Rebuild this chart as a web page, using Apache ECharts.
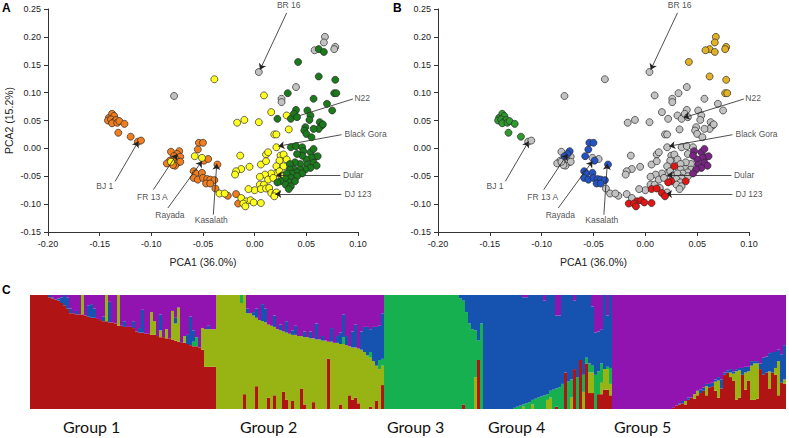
<!DOCTYPE html>
<html><head><meta charset="utf-8">
<script src="https://cdn.jsdelivr.net/npm/echarts@6/dist/echarts.min.js"></script>
<style>html,body{margin:0;padding:0;background:#fff}#c{width:789px;height:438px}</style>
</head><body><div id="c"></div>
<script>
// ---------- PCA points: [PCA1, PCA2, cluster in panel B] grouped by panel-A colour ----------
const orangeA = [
[-0.141,0.055,'g'],[-0.138,0.062,'g'],[-0.136,0.058,'g'],[-0.142,0.050,'g'],[-0.139,0.052,'g'],[-0.136,0.048,'g'],[-0.134,0.051,'g'],[-0.138,0.045,'g'],[-0.133,0.046,'g'],[-0.131,0.049,'g'],[-0.126,0.044,'g'],[-0.132,0.028,'g'],[-0.120,0.021,'g'],[-0.113,0.012,'x'],[-0.110,0.014,'x'],
[-0.081,-0.006,'x'],[-0.073,-0.005,'b'],[-0.075,-0.010,'b'],[-0.072,-0.015,'x'],[-0.078,-0.014,'b'],[-0.076,-0.020,'x'],[-0.082,-0.022,'x'],[-0.085,-0.027,'x'],[-0.080,-0.027,'x'],[-0.074,-0.025,'x'],[-0.072,-0.024,'x'],[-0.077,-0.031,'x'],[-0.079,-0.030,'x'],
[-0.054,0.010,'b'],[-0.050,0.010,'b'],[-0.055,-0.002,'b'],[-0.049,-0.022,'b'],[-0.045,-0.019,'x'],[-0.036,-0.029,'b'],
[-0.059,-0.041,'b'],[-0.057,-0.045,'b'],[-0.051,-0.044,'b'],[-0.059,-0.053,'b'],[-0.055,-0.056,'b'],[-0.050,-0.053,'b'],[-0.046,-0.055,'b'],[-0.043,-0.056,'b'],[-0.039,-0.057,'b'],[-0.047,-0.063,'b'],[-0.043,-0.063,'b'],[-0.038,-0.072,'x'],[-0.026,-0.085,'x'],[-0.018,-0.082,'x'],[-0.016,-0.099,'r']
];
const yellowA = [
[-0.081,-0.024,'x'],[-0.058,-0.014,'b'],[-0.051,-0.017,'x'],[-0.034,-0.081,'x'],[-0.029,-0.081,'x'],[-0.039,0.124,'x'],
[0.009,0.095,'x'],[0.016,0.065,'x'],[0.004,0.047,'x'],[-0.017,0.046,'x'],[-0.010,0.051,'x'],[0.031,0.059,'x'],[0.033,0.034,'x'],[0.019,0.025,'x'],[0.021,0.025,'x'],[0.021,0.002,'x'],
[-0.014,-0.013,'x'],[0.011,-0.011,'x'],[0.013,-0.007,'x'],[0.025,-0.013,'x'],[0.028,-0.011,'x'],[0.031,-0.020,'x'],[0.024,-0.022,'x'],[0.006,-0.029,'x'],[0.011,-0.023,'x'],[-0.005,-0.033,'x'],[-0.013,-0.037,'x'],[-0.018,-0.041,'x'],[-0.019,-0.047,'x'],[0.021,-0.032,'x'],[0.028,-0.032,'r'],[0.021,-0.045,'x'],[0.016,-0.045,'x'],[0.010,-0.047,'x'],[0.005,-0.051,'x'],[0.005,-0.065,'x'],[0.009,-0.065,'x'],[0.013,-0.056,'x'],[0.018,-0.053,'x'],[0.026,-0.049,'x'],[0.024,-0.041,'x'],[0.000,-0.075,'x'],[0.006,-0.073,'r'],[0.011,-0.072,'r'],[0.014,-0.071,'x'],[0.016,-0.080,'r'],[0.020,-0.081,'x'],[0.021,-0.079,'x'],[0.019,-0.086,'r'],[-0.006,-0.073,'x'],
[-0.013,-0.089,'x'],[-0.008,-0.095,'r'],[-0.004,-0.093,'r'],[-0.001,-0.097,'r'],[-0.011,-0.099,'r'],[-0.009,-0.104,'r'],[0.006,-0.098,'r']
];
const greenA = [
[0.062,0.178,'y'],[0.067,0.173,'y'],[0.042,0.155,'y'],[0.062,0.129,'y'],[0.078,0.123,'y'],[0.077,0.099,'y'],[0.079,0.099,'y'],
[0.032,0.099,'x'],[0.057,0.089,'x'],[0.070,0.080,'x'],[0.075,0.068,'x'],[0.022,0.053,'x'],[0.035,0.053,'x'],[0.040,0.069,'x'],[0.038,0.062,'x'],[0.041,0.056,'x'],[0.051,0.068,'x'],[0.054,0.059,'x'],[0.053,0.051,'x'],[0.063,0.047,'x'],[0.065,0.041,'x'],[0.062,0.035,'x'],[0.057,0.035,'x'],[0.049,0.038,'x'],[0.048,0.032,'x'],[0.050,0.026,'x'],[0.055,0.020,'x'],[0.066,0.043,'x'],
[0.035,0.002,'x'],[0.040,0.004,'x'],[0.046,0.002,'x'],[0.047,-0.005,'p'],[0.054,-0.007,'p'],[0.057,-0.001,'p'],[0.058,-0.016,'p'],[0.061,-0.014,'p'],[0.055,-0.017,'p'],[0.050,-0.020,'p'],[0.046,-0.013,'p'],[0.041,-0.010,'x'],[0.057,-0.026,'p'],[0.060,-0.031,'p'],[0.051,-0.029,'p'],[0.044,-0.028,'x'],[0.039,-0.025,'x'],[0.034,-0.028,'x'],[0.054,-0.035,'p'],[0.049,-0.038,'p'],[0.044,-0.038,'x'],[0.038,-0.037,'x'],[0.034,-0.038,'x'],[0.041,-0.043,'x'],[0.046,-0.045,'p'],[0.036,-0.045,'x'],[0.031,-0.045,'x'],[0.041,-0.050,'x'],[0.035,-0.053,'x'],[0.030,-0.055,'x'],[0.025,-0.059,'r'],[0.034,-0.061,'x'],[0.039,-0.059,'r'],[0.030,-0.065,'x'],[0.035,-0.068,'x'],[0.033,-0.073,'x'],[0.022,-0.061,'r']
];
const grayA = [
[-0.078,0.094,'x'],[0.004,0.137,'x'],[0.068,0.200,'y'],[0.067,0.190,'y'],[0.058,0.176,'y'],[0.078,0.182,'y'],[0.077,0.178,'y'],[0.040,0.110,'x'],[0.026,0.089,'x'],[0.026,0.083,'x']
];

// ---------- annotations ----------
const annotNames = ['BR 16','N22','Black Gora','Dular','DJ 123','BJ 1','FR 13 A','Rayada','Kasalath'];
const annotText = [[0.033,0.258],[0.0965,0.0895],[0.087,0.026],[0.0855,-0.0478],[0.087,-0.082],[-0.145,-0.067],[-0.099,-0.087],[-0.082,-0.119],[-0.042,-0.128]];
const annotAlign = ['center','left','left','left','left','center','center','center','center'];
const arrowFrom = [[0.031,0.243],[0.095,0.0885],[0.084,0.0245],[0.083,-0.0478],[0.084,-0.082],[-0.135,-0.059],[-0.098,-0.074],[-0.084,-0.107],[-0.040,-0.119]];
const arrowTo = [[0.0052,0.141],[0.037,0.055],[0.023,0.004],[0.021,-0.0478],[0.020,-0.082],[-0.1126,0.0125],[-0.075,-0.010],[-0.051,-0.023],[-0.0367,-0.0275]];

// ---------- STRUCTURE membership: [red, olive, green, blue, purple] per individual ----------
const group1 = [
[100,0,0,0,0],[100,0,0,0,0],[100,0,0,0,0],[100,0,0,0,0],[100,0,0,0,0],[100,0,0,0,0],
[98,0,0,2,0],[97,0,0,1,2],[96,0,0,0,4],[95,0,0,2,3],[93,0,0,5,2],[91,0,0,9,0],[88,0,0,10,2],
[84,0,0,4,12],[84,0,0,0,16],[83,0,0,3,14],[83,0,0,0,17],[83,17,0,0,0],
[82,0,0,0,18],[81,0,0,10,9],[80,0,0,12,8],[80,0,0,8,12],[79,0,0,0,21],[78,0,0,0,22],
[77,0,0,4,19],[77,23,0,0,0],[76,0,0,18,6],[76,0,0,0,24],[75,0,0,0,25],
[73,27,0,0,0],[73,0,0,0,27],[72,0,0,5,23],[72,0,0,0,28],[72,0,0,0,28],[71,0,0,6,23],
[68,0,0,0,32],[67,0,0,4,29],[67,0,0,20,13],[66,0,0,0,34],[66,0,0,0,34],
[65,20,0,0,15],[65,12,0,0,23],[64,0,0,0,36],[63,6,0,14,17],[63,0,0,0,37],[62,8,0,0,30],[62,0,0,0,38],[61,25,0,0,14],[60,15,0,5,20],
[59,30,0,0,11],[58,0,0,0,42],[58,6,0,0,36],[57,0,0,8,35],[56,0,0,25,19],[55,0,4,10,31],[55,0,8,0,37],[54,0,0,0,46],[52,19,0,0,29],
[37,33,0,0,30],[37,33,0,3,27],[37,33,0,0,30],[37,33,0,0,30]
];
const group2 = [
[0,100,0,0,0],[0,100,0,0,0],[0,100,0,0,0],[0,100,0,0,0],[0,100,0,0,0],[0,100,0,0,0],[0,100,0,0,0],[0,100,0,0,0],
[0,93,7,0,0],[13,87,0,0,0],[0,84,0,4,12],[0,84,0,0,16],[0,82,0,3,15],[20,60,0,8,12],[0,78,0,0,22],[0,77,0,15,8],
[0,76,0,12,12],[10,64,0,0,26],[0,73,0,0,27],[12,60,0,10,18],[0,70,0,0,30],[0,69,0,5,26],[15,53,0,0,32],[8,59,0,10,23],
[0,66,0,0,34],[7,58,0,4,31],[0,65,0,8,27],[0,64,0,0,36],[18,46,0,0,36],[4,59,0,5,32],[0,63,0,0,37],[0,62,0,6,32],
[6,56,0,0,38],[0,61,0,14,25],[0,61,0,0,39],[0,60,0,4,36],[0,60,0,0,40],[44,15,0,0,41],[0,59,0,12,29],[0,58,0,0,42],
[0,58,0,6,36],[4,53,0,10,33],[0,57,6,20,17],[0,56,0,8,36],[12,43,0,0,45],[8,46,0,14,32],[10,44,0,20,26],[5,48,0,0,47],
[0,52,0,16,32],[0,50,0,22,28],[0,47,0,25,28],[2,43,5,20,30],[0,42,0,30,28],[7,31,0,34,28],[0,35,8,30,27],[21,17,6,40,16]
];
const group3 = [
[0,0,100,0,0],[0,0,100,0,0],[0,0,100,0,0],[0,0,100,0,0],[0,0,100,0,0],[0,0,100,0,0],[0,0,100,0,0],[0,0,100,0,0],
[0,0,100,0,0],[0,0,100,0,0],[0,0,100,0,0],[0,0,100,0,0],[0,0,100,0,0],[0,0,100,0,0],[0,0,100,0,0],[0,0,100,0,0],
[0,0,100,0,0],[0,0,100,0,0],[0,0,100,0,0],[0,0,100,0,0],[0,0,100,0,0],[0,0,100,0,0],[0,0,100,0,0],[0,0,100,0,0],
[0,0,100,0,0],[0,0,97,3,0],[4,0,91,5,0],[0,0,85,15,0],[0,0,75,25,0],[0,0,70,30,0],[0,28,41,31,0],[43,0,17,40,0],[0,0,75,25,0]
];
const group4 = [
[0,0,0,100,0],[0,0,0,100,0],[0,0,0,100,0],[0,0,0,100,0],[0,0,0,100,0],[0,0,0,100,0],[0,0,0,100,0],[0,0,0,100,0],[0,0,0,100,0],[0,0,0,100,0],
[0,0,1,99,0],[0,0,2,98,0],[0,0,3,97,0],[0,2,2,94,2],[0,0,5,93,2],[0,0,6,94,0],[0,4,4,92,0],[0,0,9,91,0],[0,0,10,90,0],[0,0,11,89,0],
[0,0,12,83,5],[0,8,5,87,0],[0,10,6,84,0],[0,0,17,83,0],[2,0,16,64,18],[0,0,19,63,18],[0,0,22,78,0],[32,0,0,68,0],[0,0,24,76,0],[0,10,16,74,0],
[35,0,0,60,5],[0,0,28,72,0],[43,0,0,57,0],[0,15,15,70,0],[40,0,5,55,0],[14,18,8,60,0],[14,18,6,52,10],[0,0,30,37,33],[13,0,20,35,32],[13,10,17,30,30],
[17,18,0,65,0],[17,18,2,45,18],[12,10,14,64,0]
];
const group5 = [
[0,0,0,0,100],[0,0,0,0,100],[0,0,0,0,100],[0,0,0,0,100],[0,0,0,0,100],[0,0,0,0,100],[0,0,0,0,100],[0,0,0,0,100],[0,0,0,0,100],[0,0,0,0,100],
[0,0,0,0,100],[0,0,0,0,100],[0,0,0,0,100],[0,0,0,0,100],[0,0,0,0,100],[0,0,0,0,100],[0,0,0,0,100],[0,0,0,0,100],[0,0,0,0,100],[0,0,0,0,100],
[1,0,0,0,99],[3,0,0,0,97],[4,0,0,1,95],[5,0,0,2,93],[4,3,0,0,93],[8,0,0,2,90],[10,0,0,0,90],[9,4,0,0,87],[12,4,0,0,84],[14,0,0,3,83],
[16,0,0,3,81],[12,8,0,2,78],[19,0,0,3,78],[20,0,0,3,77],[16,8,0,2,74],[10,15,0,3,72],[18,0,0,8,74],[30,0,0,2,68],[32,0,0,2,66],[28,4,0,3,65],
[25,6,0,2,67],[8,25,0,2,65],[10,24,0,2,64],[30,0,0,6,64],[17,15,0,5,63],[25,8,0,4,63],[8,30,0,4,58],[8,32,0,2,58],[9,31,0,2,58],[35,0,0,5,60],
[30,0,0,15,55],[32,0,0,14,54],[18,15,0,16,51],[32,0,0,18,50],[30,6,0,14,50],[12,30,0,10,48],[23,0,0,25,52],[22,4,0,30,44]
];
const groupNames = ['Group 1','Group 2','Group 3','Group 4','Group 5'];
const clusterNames = ['red','olive','green','blue','purple'];

// ---------- styles / layout ----------
const F = "'Liberation Sans', Arial, sans-serif";
const colA = {orange:'#F07E1E', yellow:'#FFFF1E', green:'#1B7A1B', gray:'#C2C2C2'};
const colB = {x:'#C2C2C2', g:'#2E9A2E', b:'#2453C6', r:'#E31515', p:'#7A2485', y:'#E2B125'};
const colQ = ['#B01414','#98B414','#16B050','#1652B0','#9214B0'];
const groupLabelX = [63, 240, 387, 488, 614];

const fmt = v => (Math.abs(v) < 1e-9 ? '0.00' : v.toFixed(2));
function xAx(gi){ return {type:'value', gridIndex:gi, min:-0.2, max:0.1, interval:0.05,
  name:'PCA1 (36.0%)', nameLocation:'middle', nameGap:24,
  nameTextStyle:{fontSize:10.5, color:'#222', fontFamily:F},
  axisLine:{onZero:false, lineStyle:{color:'#333', width:1}},
  axisTick:{length:4, lineStyle:{color:'#333'}},
  axisLabel:{fontSize:9, color:'#222', margin:7, formatter:fmt, fontFamily:F},
  splitLine:{show:false}}; }
function yAx(gi, withName){ return {type:'value', gridIndex:gi, min:-0.15, max:0.25, interval:0.05,
  name: withName ? 'PCA2 (15.2%)' : '', nameLocation:'middle', nameGap:34,
  nameTextStyle:{fontSize:10.5, color:'#222', fontFamily:F},
  axisLine:{onZero:false, lineStyle:{color:'#333', width:1}},
  axisTick:{length:4, lineStyle:{color:'#333'}},
  axisLabel:{fontSize:9, color:'#222', margin:7, formatter:fmt, fontFamily:F},
  splitLine:{show:false}}; }

function pts(arr){ return arr.map(p => [p[0], p[1]]); }
function scat(gi, data, color, z){ return {type:'scatter', xAxisIndex:gi, yAxisIndex:gi, data:data,
  symbolSize:7, z:z, itemStyle:{color:color, borderColor:'#2a2a2a', borderWidth:0.7, opacity:1}}; }
function annot(gi){ return {type:'scatter', xAxisIndex:gi, yAxisIndex:gi, clip:false, symbolSize:0, z:20, silent:true,
  data: annotNames.map((n,i) => ({name:n, value:annotText[i],
     label:{show:true, formatter:n, position: annotAlign[i]==='left' ? 'right' : 'inside', distance:0,
            fontSize:8.5, color:'#222', fontFamily:F}})),
  markLine:{silent:true, symbol:['none','arrow'], symbolSize:6, animation:false,
     label:{show:false}, lineStyle:{color:'#222', width:0.8, type:'solid'},
     data: arrowFrom.map((f,i) => [{coord:f}, {coord:arrowTo[i]}])}}; }

const allPts = orangeA.concat(yellowA, greenA, grayA);
const series = [
  scat(0, pts(grayA), colA.gray, 2),
  scat(0, pts(orangeA), colA.orange, 3),
  scat(0, pts(yellowA), colA.yellow, 4),
  scat(0, pts(greenA), colA.green, 5),
  annot(0)
];
['x','g','b','r','p','y'].forEach((k, i) => {
  series.push(scat(1, pts(allPts.filter(p => p[2] === k)), colB[k], 2 + i));
});
series.push(annot(1));

const rows = group1.concat(group2, group3, group4, group5);
const idx = rows.map((r, i) => String(i + 1));
clusterNames.forEach((n, k) => {
  series.push({type:'bar', name:n, xAxisIndex:2, yAxisIndex:2, stack:'q',
    barCategoryGap:'0%', barGap:'0%', data: rows.map(r => r[k] === 0 ? '-' : r[k]),
    itemStyle:{color:colQ[k]}, silent:true});
});

const chart = echarts.init(document.getElementById('c'), null, {renderer:'svg'});
chart.setOption({
  animation:false,
  backgroundColor:'#fff',
  grid:[
    {left:48, top:9, width:310, height:223},
    {left:438, top:9, width:311, height:223},
    {left:30, top:295, width:756, height:114}
  ],
  xAxis:[xAx(0), xAx(1),
    {type:'category', gridIndex:2, data:idx, show:false, boundaryGap:true}],
  yAxis:[yAx(0, true), yAx(1, false),
    {type:'value', gridIndex:2, min:0, max:100, show:false}],
  graphic:[
    {type:'text', left:2, top:2, style:{text:'A', font:"bold 12px 'Liberation Sans', Arial", fill:'#000'}},
    {type:'text', left:393, top:2, style:{text:'B', font:"bold 12px 'Liberation Sans', Arial", fill:'#000'}},
    {type:'text', left:2, top:284, style:{text:'C', font:"bold 12px 'Liberation Sans', Arial", fill:'#000'}}
  ].concat(groupNames.map((g, i) => ({type:'text', left:groupLabelX[i], top:418,
      style:{text:g, font:"16px Lato, 'Open Sans', sans-serif", fill:'#111'}}))),
  series: series
});
</script></body></html>
